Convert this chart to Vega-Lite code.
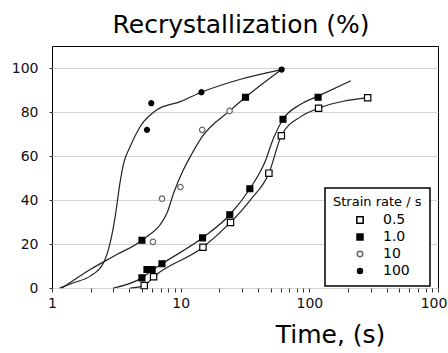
{
  "$schema": "https://vega.github.io/schema/vega-lite/v6.json",
  "autosize": {"type": "none"},
  "width": 386,
  "height": 242,
  "padding": {"left": 52, "top": 46, "right": 10, "bottom": 65},
  "background": "white",
  "title": {
    "text": "Recrystallization (%)",
    "font": "DejaVu Sans",
    "fontSize": 25,
    "fontWeight": "normal",
    "color": "#000",
    "anchor": "middle",
    "frame": "group",
    "baseline": "alphabetic",
    "offset": 12,
    "dx": -4,
    "dy": 24
  },
  "config": {
    "view": {"stroke": "#000", "strokeWidth": 1},
    "axis": {"labelFont": "DejaVu Sans", "labelFontSize": 14, "labelColor": "#111", "domain": false, "tickColor": "#333"},
    "legend": {"strokeWidth": 1.5}
  },
  "datasets": {
    "pts": [
      {"s": "0.5", "t": 5.21, "y": 1.1},
      {"s": "0.5", "t": 6.16, "y": 5.1},
      {"s": "0.5", "t": 14.9, "y": 18.5},
      {"s": "0.5", "t": 24.4, "y": 29.8},
      {"s": "0.5", "t": 48.5, "y": 52.2},
      {"s": "0.5", "t": 60.6, "y": 69.2},
      {"s": "0.5", "t": 118, "y": 81.7},
      {"s": "0.5", "t": 284, "y": 86.5},
      {"s": "1.0", "t": 5.0, "y": 4.6},
      {"s": "1.0", "t": 5.47, "y": 8.4},
      {"s": "1.0", "t": 6.0, "y": 8.4},
      {"s": "1.0", "t": 7.16, "y": 11.0},
      {"s": "1.0", "t": 14.8, "y": 22.8},
      {"s": "1.0", "t": 24.1, "y": 33.3},
      {"s": "1.0", "t": 34.5, "y": 45.1},
      {"s": "1.0", "t": 62.4, "y": 76.7},
      {"s": "1.0", "t": 117, "y": 86.7},
      {"s": "1.0", "t": 5.0, "y": 21.7},
      {"s": "1.0", "t": 31.9, "y": 86.7},
      {"s": "10", "t": 6.09, "y": 21.0},
      {"s": "10", "t": 7.16, "y": 40.6},
      {"s": "10", "t": 9.95, "y": 45.9},
      {"s": "10", "t": 14.7, "y": 71.9},
      {"s": "10", "t": 24.0, "y": 80.5},
      {"s": "100", "t": 5.47, "y": 71.9},
      {"s": "100", "t": 5.91, "y": 84.0},
      {"s": "100", "t": 14.5, "y": 89.0},
      {"s": "100", "t": 60.9, "y": 99.3}
    ],
    "fit": [
      {"s": "100", "t": 1.15, "y": 0},
      {"s": "100", "t": 1.47, "y": 2.4},
      {"s": "100", "t": 1.98, "y": 5.4},
      {"s": "100", "t": 2.51, "y": 11.4},
      {"s": "100", "t": 2.83, "y": 20.5},
      {"s": "100", "t": 3.1, "y": 32.6},
      {"s": "100", "t": 3.39, "y": 48.5},
      {"s": "100", "t": 3.6, "y": 56.5},
      {"s": "100", "t": 4.05, "y": 64.3},
      {"s": "100", "t": 4.85, "y": 73.4},
      {"s": "100", "t": 6.55, "y": 81},
      {"s": "100", "t": 9.95, "y": 84.7},
      {"s": "100", "t": 14.5, "y": 89},
      {"s": "100", "t": 29.2, "y": 94.9},
      {"s": "100", "t": 60.9, "y": 99.3},
      {"s": "10", "t": 1.2, "y": 0},
      {"s": "10", "t": 1.98, "y": 8.4},
      {"s": "10", "t": 3.19, "y": 15.2},
      {"s": "10", "t": 5.0, "y": 21.7},
      {"s": "10", "t": 7.83, "y": 34.1},
      {"s": "10", "t": 8.82, "y": 43.2},
      {"s": "10", "t": 10.5, "y": 53.7},
      {"s": "10", "t": 11.9, "y": 59.8},
      {"s": "10", "t": 14.7, "y": 68.8},
      {"s": "10", "t": 24.0, "y": 80.5},
      {"s": "10", "t": 31.9, "y": 86.7},
      {"s": "10", "t": 60.9, "y": 99.3},
      {"s": "1.0", "t": 3.0, "y": 0},
      {"s": "1.0", "t": 5.0, "y": 4.6},
      {"s": "1.0", "t": 6.0, "y": 8.0},
      {"s": "1.0", "t": 7.16, "y": 11},
      {"s": "1.0", "t": 14.8, "y": 22.8},
      {"s": "1.0", "t": 24.1, "y": 33.3},
      {"s": "1.0", "t": 34.5, "y": 45.1},
      {"s": "1.0", "t": 45, "y": 57},
      {"s": "1.0", "t": 53, "y": 68.5},
      {"s": "1.0", "t": 62.4, "y": 76.7},
      {"s": "1.0", "t": 85.7, "y": 83.5},
      {"s": "1.0", "t": 117, "y": 87.2},
      {"s": "1.0", "t": 210, "y": 94.2},
      {"s": "0.5", "t": 4.05, "y": 0},
      {"s": "0.5", "t": 5.21, "y": 1.1},
      {"s": "0.5", "t": 6.16, "y": 5.1},
      {"s": "0.5", "t": 14.9, "y": 18.5},
      {"s": "0.5", "t": 24.4, "y": 29.8},
      {"s": "0.5", "t": 34.9, "y": 40.1},
      {"s": "0.5", "t": 48.5, "y": 52.2},
      {"s": "0.5", "t": 60.6, "y": 69.2},
      {"s": "0.5", "t": 85.7, "y": 77.9},
      {"s": "0.5", "t": 118, "y": 81.7},
      {"s": "0.5", "t": 284, "y": 86.5}
    ]
  },
  "encoding": {
    "x": {
      "field": "t",
      "type": "quantitative",
      "scale": {"type": "log", "domain": [1, 1000], "nice": false},
      "axis": {
        "title": "Time, (s)",
        "titleFont": "DejaVu Sans",
        "titleFontSize": 25,
        "titleFontWeight": "normal",
        "titleColor": "#000",
        "titleX": 278,
        "titleY": 54,
        "titleAlign": "center",
        "titleBaseline": "alphabetic",
        "grid": false,
        "values": [1, 2, 3, 4, 5, 6, 7, 8, 9, 10, 20, 30, 40, 50, 60, 70, 80, 90, 100, 200, 300, 400, 500, 600, 700, 800, 900, 1000],
        "format": "d",
        "labelExpr": "indexof(['1','10','100','1000'], datum.label) >= 0 ? datum.label : ''",
        "labelOverlap": false,
        "labelFlush": false,
        "tickSize": 4,
        "labelPadding": 4
      }
    },
    "y": {
      "field": "y",
      "type": "quantitative",
      "scale": {"domain": [0, 110], "nice": false},
      "axis": {
        "title": null,
        "values": [0, 20, 40, 60, 80, 100],
        "gridColor": "#d4d4d4",
        "gridWidth": 1,
        "tickSize": 3,
        "labelPadding": 11
      }
    }
  },
  "layer": [
    {
      "data": {"name": "fit"},
      "mark": {"type": "line", "interpolate": "monotone", "color": "#222", "strokeWidth": 1.2},
      "encoding": {"detail": {"field": "s"}}
    },
    {
      "data": {"name": "pts"},
      "mark": {"type": "point", "filled": true, "strokeWidth": 1.2, "opacity": 1},
      "encoding": {
        "shape": {
          "field": "s", "type": "nominal",
          "scale": {"domain": ["0.5", "1.0", "10", "100"], "range": ["square", "square", "circle", "circle"]},
          "legend": {
            "title": "Strain rate / s",
            "orient": "none",
            "legendX": 273,
            "legendY": 142,
            "strokeColor": "#000",
            "fillColor": "white",
            "padding": 8,
            "titleFont": "DejaVu Sans",
            "titleFontSize": 13,
            "titleFontWeight": "normal",
            "titleColor": "#000",
            "titlePadding": 4,
            "labelFont": "DejaVu Sans",
            "labelFontSize": 14,
            "labelColor": "#000",
            "rowPadding": 3,
            "symbolOffset": 20,
            "labelOffset": 16
          }
        },
        "fill": {
          "field": "s", "type": "nominal",
          "scale": {"domain": ["0.5", "1.0", "10", "100"], "range": ["white", "black", "white", "black"]},
          "legend": {"title": "Strain rate / s"}
        },
        "stroke": {
          "field": "s", "type": "nominal",
          "scale": {"domain": ["0.5", "1.0", "10", "100"], "range": ["black", "black", "#666", "black"]},
          "legend": {"title": "Strain rate / s"}
        },
        "size": {
          "field": "s", "type": "nominal",
          "scale": {"domain": ["0.5", "1.0", "10", "100"], "range": [40, 25, 20, 28]},
          "legend": {"title": "Strain rate / s"}
        }
      }
    }
  ]
}
